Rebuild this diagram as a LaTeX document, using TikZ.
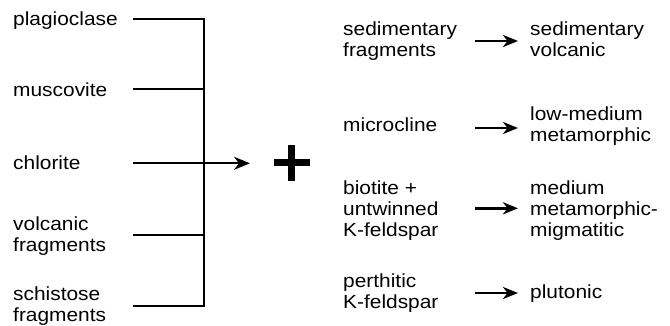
\documentclass[tikz,border=0pt]{standalone}
\usepackage{fontspec}
\setmainfont{Liberation Sans}[FakeStretch=1.1]
\usetikzlibrary{arrows.meta}
\begin{document}
\begin{tikzpicture}[x=1pt,y=-1pt,
  lbl/.style={anchor=base west,inner sep=0pt,align=left,font=\fontsize{19pt}{21.3pt}\selectfont},
  feed/.style={line width=2pt},
  mainarrow/.style={line width=2pt,-{Stealth[length=16pt,width=13pt,inset=5pt]}},
  rarrow/.style={line width=2.7pt,-{Stealth[length=15pt,width=12pt,inset=4.5pt]}}]
\useasboundingbox (0,0) rectangle (670,326);
% left labels (anchored at the baseline of their last line)
\node[lbl] (plag) at (13,26) {plagioclase};
\node[lbl] (musc) at (13,96.5) {muscovite};
\node[lbl] (chlo) at (13,170) {chlorite};
\node[lbl] (volc) at (13,251.7) {volcanic\\fragments};
\node[lbl] (schi) at (13,321.7) {schistose\\fragments};
% feeder line coordinates
\coordinate (p0) at (133,19.5);
\coordinate (m0) at (133,89.3);
\coordinate (c0) at (133,163.3);
\coordinate (v0) at (133,235);
\coordinate (s0) at (133,306);
\coordinate (pt) at (203.5,19.5);
\coordinate (mt) at (203.5,89.3);
\coordinate (vt) at (203.5,235);
\coordinate (st) at (203.5,306);
\coordinate (ctip) at (250,163.3);
\draw[feed] (p0) -- (pt) -- (st) -- (s0);
\draw[feed] (m0) -- (mt);
\draw[feed] (v0) -- (vt);
\draw[mainarrow] (c0) -- (ctip);
% plus sign
\coordinate (plus) at (291.7,162.7);
\fill ([xshift=-18pt,yshift=-3.6pt]plus) rectangle ([xshift=18pt,yshift=3.6pt]plus);
\fill ([xshift=-3.6pt,yshift=-18pt]plus) rectangle ([xshift=3.6pt,yshift=18pt]plus);
% right side
\node[lbl] (sedf) at (343,56.7) {sedimentary\\fragments};
\node[lbl] (sedv) at (530,56.7) {sedimentary\\volcanic};
\node[lbl] (micr) at (343,131.7) {microcline};
\node[lbl] (lowm) at (530,141.7) {low-medium\\metamorphic};
\node[lbl] (biot) at (343,236.7) {biotite +\\untwinned\\K-feldspar};
\node[lbl] (medm) at (530,236.7) {medium\\metamorphic-\\migmatitic};
\node[lbl] (pert) at (343,308.3) {perthitic\\K-feldspar};
\node[lbl] (plut) at (530,298.3) {plutonic};
\draw[rarrow] (475,41) coordinate (a1s) -- (518,41) coordinate (a1e);
\draw[rarrow] (475,128) coordinate (a2s) -- (518,128) coordinate (a2e);
\draw[rarrow] (475,208.3) coordinate (a3s) -- (518,208.3) coordinate (a3e);
\draw[rarrow] (475,293) coordinate (a4s) -- (518,293) coordinate (a4e);
\end{tikzpicture}
\end{document}
